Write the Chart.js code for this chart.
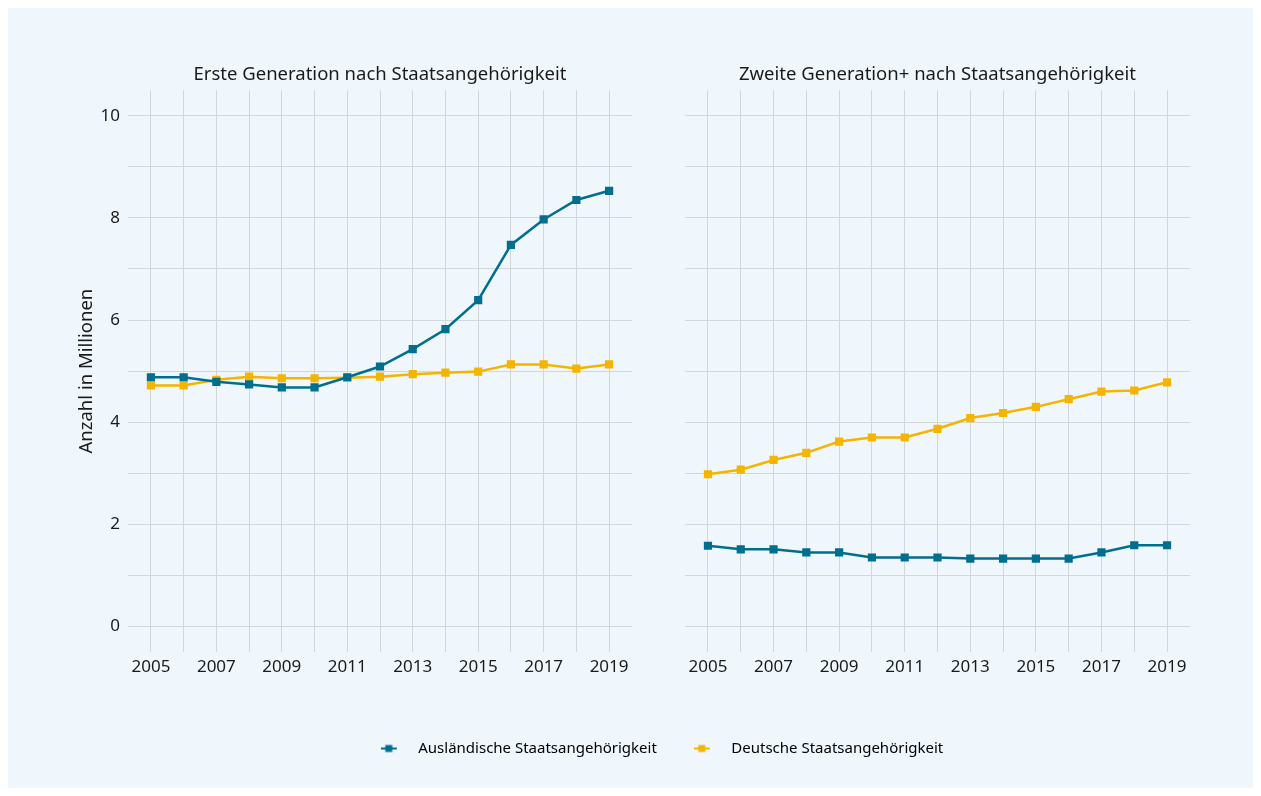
<!DOCTYPE html>
<html><head><meta charset="utf-8">
<script src="https://cdn.jsdelivr.net/npm/chart.js@4.4.1/dist/chart.umd.min.js"></script>
<style>
html,body{margin:0;padding:0;background:#fff;width:1261px;height:796px;overflow:hidden;}
#bg{position:absolute;left:8px;top:8px;width:1245px;height:780px;background:#f0f7fc;}
.c{position:absolute;}
</style></head><body>
<div id="bg"></div>
<div class="c" style="left:70px;top:50px;width:570px;height:640px"><canvas id="c1"></canvas></div>
<div class="c" style="left:655px;top:50px;width:543px;height:640px"><canvas id="c2"></canvas></div>
<div class="c" style="left:42px;top:704px;width:1240px;height:140px"><canvas id="c3"></canvas></div>
<script>
const years = [2005,2006,2007,2008,2009,2010,2011,2012,2013,2014,2015,2016,2017,2018,2019];
const xTickLabels = ['2005','2007','2009','2011','2013','2015','2017','2019'];
const yGridValues = [0,1,2,3,4,5,6,7,8,9,10];
const yTickLabels = ['0','2','4','6','8','10'];
const panelTitles = ['Erste Generation nach Staatsangehörigkeit','Zweite Generation+ nach Staatsangehörigkeit'];
const seriesNames = ['Ausländische Staatsangehörigkeit','Deutsche Staatsangehörigkeit'];
const yAxisTitle = 'Anzahl in Millionen';
// Erste Generation
const ersteAusl = [4.88,4.88,4.79,4.74,4.68,4.68,4.88,5.09,5.43,5.82,6.39,7.47,7.97,8.35,8.53];
const ersteDeut = [4.72,4.72,4.83,4.89,4.86,4.86,4.87,4.89,4.94,4.97,4.99,5.13,5.13,5.05,5.13];
// Zweite Generation+
const zweiteAusl = [1.58,1.51,1.51,1.45,1.45,1.35,1.35,1.35,1.33,1.33,1.33,1.33,1.45,1.59,1.59];
const zweiteDeut = [2.98,3.07,3.26,3.40,3.62,3.70,3.70,3.87,4.08,4.18,4.30,4.45,4.60,4.62,4.78];

const BLUE = '#006e8f', YELLOW = '#f5b400', GRID = '#d1d6da', TEXT = '#1a1a1a';
const FONT = '"Noto Sans", "Open Sans", sans-serif';
Chart.defaults.font.family = FONT;
Chart.defaults.color = TEXT;

function ds(label, vals, color){
  return {label, data: years.map((x,i)=>({x, y: vals[i]})), borderColor: color, backgroundColor: color,
    borderWidth: 2.5, pointStyle: 'rect', pointRadius: 5.8, pointBorderWidth: 0, pointHoverRadius: 5.8, tension: 0};
}
function panel(id, title, datasets, showY){
  new Chart(document.getElementById(id), {
    type: 'line',
    data: {datasets},
    options: {
      responsive: true, maintainAspectRatio: false, animation: false,
      layout: {padding: {left: 0, right: 8, top: 0, bottom: 0}},
      plugins: {
        legend: {display: false}, tooltip: {enabled: false},
        title: {display: true, text: title, fullSize: false, font: {size: 18.5, weight: 'normal'}, color: TEXT, padding: {top: 14, bottom: 4}}
      },
      scales: {
        x: {type: 'linear', min: 2004.3, max: 2019.7,
          grid: {color: GRID, lineWidth: 1, drawTicks: false}, border: {display: false},
          afterBuildTicks: s => { s.ticks = years.map(v => ({value: v})); },
          ticks: {autoSkip: false, maxRotation: 0, padding: 5, font: {size: 17},
            callback: v => xTickLabels.includes(String(v)) ? String(v) : ''},
          afterFit: s => { s.height = 38; }
        },
        y: {min: -0.5, max: 10.5,
          grid: {color: GRID, lineWidth: 1, drawTicks: false}, border: {display: false},
          afterBuildTicks: s => { s.ticks = yGridValues.map(v => ({value: v})); },
          title: {display: showY, text: yAxisTitle, font: {size: 18.5}, color: TEXT, padding: {top: 6, bottom: 0}},
          ticks: {display: showY, autoSkip: false, padding: 8, font: {size: 17},
            callback: v => yTickLabels.includes(String(v)) ? String(v) : ''},
          afterFit: s => { s.width = showY ? 58 : 30; }
        }
      }
    }
  });
}
panel('c1', panelTitles[0], [ds(seriesNames[0], ersteAusl, BLUE), ds(seriesNames[1], ersteDeut, YELLOW)], true);
panel('c2', panelTitles[1], [ds(seriesNames[0], zweiteAusl, BLUE), ds(seriesNames[1], zweiteDeut, YELLOW)], false);

function marker(color){
  const c = document.createElement('canvas'); c.width = 30; c.height = 12;
  const g = c.getContext('2d');
  g.strokeStyle = color; g.lineWidth = 2; g.beginPath(); g.moveTo(0, 6); g.lineTo(16, 6); g.stroke();
  g.fillStyle = color; g.fillRect(4.5, 2.5, 7, 7);
  return c;
}
const markers = [marker(BLUE), marker(YELLOW)];
new Chart(document.getElementById('c3'), {
  type: 'line',
  data: {datasets: seriesNames.map((n,i)=>({label: n, data: [], borderColor: i ? YELLOW : BLUE, backgroundColor: i ? YELLOW : BLUE}))},
  options: {
    responsive: true, maintainAspectRatio: false, animation: false,
    scales: {x: {display: false}, y: {display: false}},
    plugins: {
      tooltip: {enabled: false},
      legend: {display: true, position: 'top',
        labels: {usePointStyle: true, pointStyleWidth: 30, padding: 37, font: {size: 15}, color: TEXT,
          generateLabels: chart => chart.data.datasets.map((d,i)=>({text: d.label, pointStyle: markers[i], fillStyle: d.borderColor, strokeStyle: d.borderColor, lineWidth: 0, datasetIndex: i, hidden: false}))}
      }
    }
  }
});
</script>
</body></html>
